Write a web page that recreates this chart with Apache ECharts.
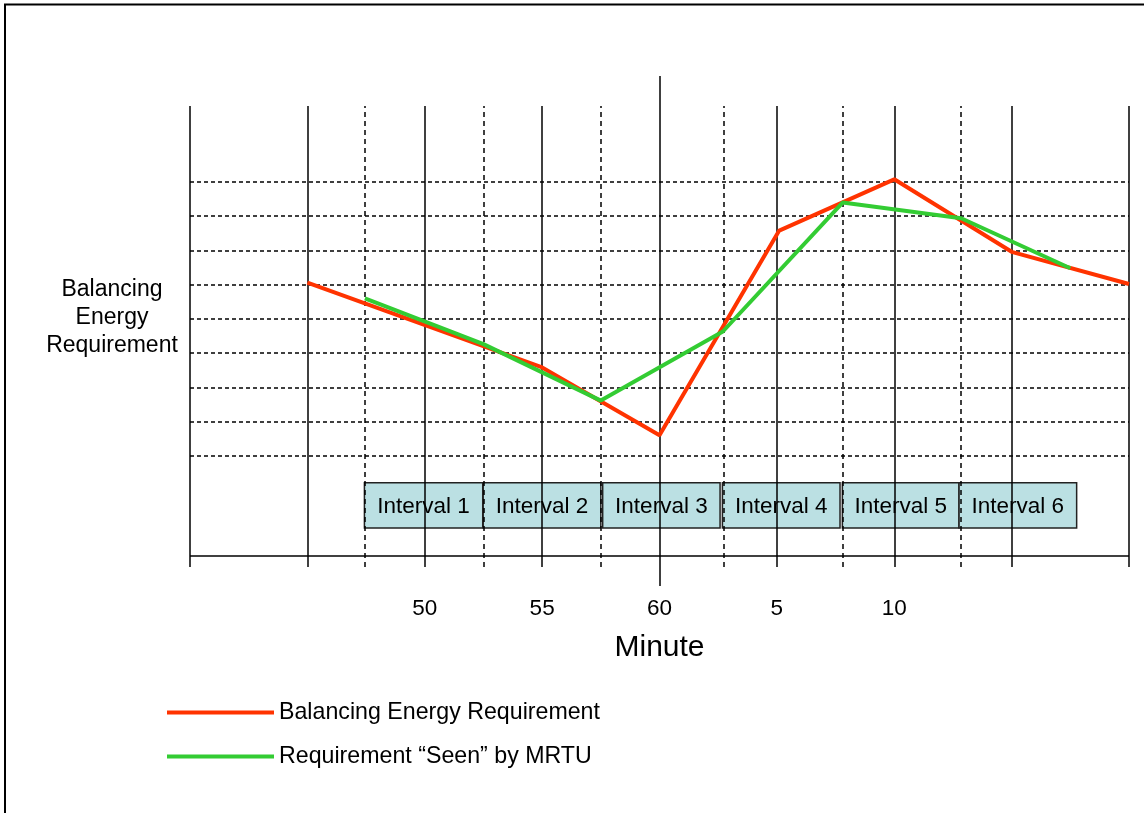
<!DOCTYPE html>
<html><head><meta charset="utf-8">
<script src="https://cdn.jsdelivr.net/npm/echarts@6/dist/echarts.min.js"></script>
<style>html,body{margin:0;padding:0;background:#fff}#chart{width:1144px;height:813px}</style>
</head><body><div id="chart"></div>
<script>
// ---- data ----
const seriesNames = ['Balancing Energy Requirement', 'Requirement \u201cSeen\u201d by MRTU'];
const balancingRequirement = [[45, 6.06], [55, 3.58], [60, 1.6], [65.1, 7.58], [70, 9.08], [75, 6.96], [80, 6.02]];
const seenByMRTU = [[47.45, 5.6], [52.5, 4.26], [57.5, 2.61], [62.7, 4.63], [67.8, 8.4], [72.85, 7.94], [77.5, 6.48]];
const intervalNames = ['Interval 1', 'Interval 2', 'Interval 3', 'Interval 4', 'Interval 5', 'Interval 6'];
const intervalStarts = [47.43, 52.49, 57.58, 62.68, 67.79, 72.76];
const intervalEnds = [52.47, 57.5, 62.58, 67.69, 72.76, 77.77];
const minuteTicks = [50, 55, 60, 65, 70];
const minuteTickLabels = ['50', '55', '60', '5', '10'];
const solidGridMinutes = [40, 45, 50, 55, 65, 70, 75, 80];
const centerMinute = 60;
const dashedGridMinutes = [47.45, 52.52, 57.5, 62.72, 67.81, 72.84];
const levelLines = [1, 2, 3, 4, 5, 6, 7, 8, 9];
const xName = 'Minute';
const yLabel = 'Balancing\nEnergy\nRequirement';

// ---- layout constants (axis units) ----
const X_MIN = 40, X_MAX = 80;
const Y_MIN = -2.81, Y_MAX = 12.10;
const AXIS_LEVEL = -1.933, TICK_END = -2.254, LINE_TOP = 11.225;
const BOX_TOP = 0.21, BOX_BOTTOM = -1.114;
const FONT = '"Liberation Sans", Arial, sans-serif';

const chart = echarts.init(document.getElementById('chart'), null, {renderer: 'canvas'});

const solidLines = solidGridMinutes.map(m => [{coord: [m, TICK_END]}, {coord: [m, LINE_TOP]}]);
solidLines.push([{coord: [centerMinute, Y_MIN]}, {coord: [centerMinute, Y_MAX]}]);
solidLines.push([{coord: [X_MIN, AXIS_LEVEL]}, {coord: [X_MAX, AXIS_LEVEL]}]);
const dashedVLines = dashedGridMinutes.map(m => [{coord: [m, TICK_END]}, {coord: [m, LINE_TOP]}]);
const hLines = levelLines.map(v => ({yAxis: v}));

const markBase = {symbol: 'none', silent: true, label: {show: false}, emphasis: {disabled: true}, animation: false};

const option = {
  animation: false,
  backgroundColor: '#fff',
  grid: {left: 190, right: 15, top: 76, bottom: 227},
  xAxis: {
    type: 'value', min: X_MIN, max: X_MAX, interval: 5,
    axisLine: {show: false}, axisTick: {show: false}, splitLine: {show: false},
    axisLabel: {
      color: '#000', fontSize: 22.5, fontFamily: FONT, margin: 11,
      formatter: v => { const i = minuteTicks.indexOf(v); return i >= 0 ? minuteTickLabels[i] : ''; }
    },
    name: xName, nameLocation: 'middle', nameGap: 47,
    nameTextStyle: {color: '#000', fontSize: 30, fontFamily: FONT}
  },
  yAxis: {
    type: 'value', min: Y_MIN, max: Y_MAX,
    axisLine: {show: false}, axisTick: {show: false}, splitLine: {show: false}, axisLabel: {show: false}
  },
  legend: {
    data: seriesNames, orient: 'vertical', left: 162, top: 696, itemGap: 21,
    icon: 'rect', itemWidth: 107, itemHeight: 4,
    textStyle: {color: '#000', fontSize: 23.2, fontFamily: FONT}
  },
  graphic: [
    {type: 'rect', z: 100, silent: true, shape: {x: 5, y: 4.5, width: 1300, height: 1000},
     style: {fill: 'none', stroke: '#000', lineWidth: 2}},
    {type: 'text', x: 112, y: 318, silent: true,
     style: {text: yLabel, align: 'center', verticalAlign: 'middle', font: '23px ' + FONT, lineHeight: 28, fill: '#000'}}
  ],
  series: [
    {type: 'line', name: '_solid', data: [], silent: true, z: 1,
     markLine: Object.assign({}, markBase, {lineStyle: {color: '#000', width: 1.5, type: 'solid'}, data: solidLines})},
    {type: 'line', name: '_dashedV', data: [], silent: true, z: 1,
     markLine: Object.assign({}, markBase, {lineStyle: {color: '#000', width: 1.5, type: [5, 4]}, data: dashedVLines})},
    {type: 'line', name: '_dashedH', data: [], silent: true, z: 1,
     markLine: Object.assign({}, markBase, {lineStyle: {color: '#000', width: 1.5, type: [4, 3]}, data: hLines})},
    {type: 'custom', name: '_intervals', silent: true, z: 3,
     data: intervalStarts.map((s, i) => [s, intervalEnds[i]]),
     encode: {x: [0, 1]},
     renderItem: function (params, api) {
       const p0 = api.coord([api.value(0), BOX_TOP]);
       const p1 = api.coord([api.value(1), BOX_BOTTOM]);
       return {type: 'group', children: [
         {type: 'rect', shape: {x: p0[0], y: p0[1], width: p1[0] - p0[0], height: p1[1] - p0[1]},
          style: {fill: '#bbe0e3', stroke: '#222', lineWidth: 1.5}},
         {type: 'text', style: {text: intervalNames[params.dataIndex], x: (p0[0] + p1[0]) / 2, y: (p0[1] + p1[1]) / 2 + 1.5,
          align: 'center', verticalAlign: 'middle', font: '22.5px ' + FONT, fill: '#000'}}
       ]};
     }},
    {type: 'line', name: seriesNames[0], data: balancingRequirement, symbol: 'none', z: 5,
     itemStyle: {color: '#ff3300'}, lineStyle: {color: '#ff3300', width: 4}},
    {type: 'line', name: seriesNames[1], data: seenByMRTU, symbol: 'none', z: 6,
     itemStyle: {color: '#33cc33'}, lineStyle: {color: '#33cc33', width: 4}}
  ]
};
chart.setOption(option);
</script>
</body></html>
